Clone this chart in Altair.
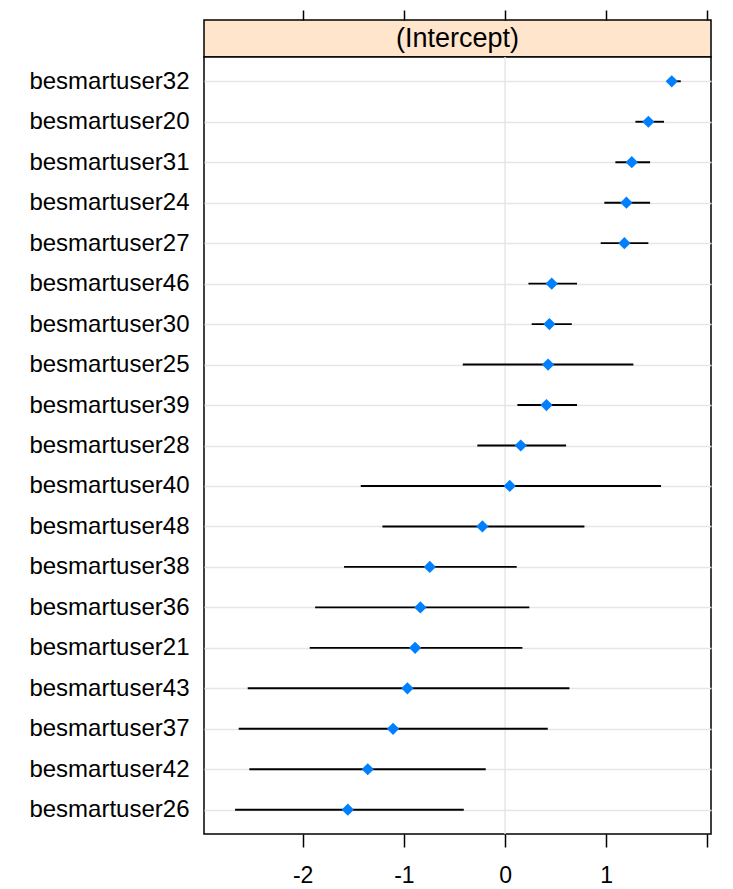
import altair as alt
import pandas as pd

users = ["besmartuser32", "besmartuser20", "besmartuser31", "besmartuser24", "besmartuser27",
         "besmartuser46", "besmartuser30", "besmartuser25", "besmartuser39", "besmartuser28",
         "besmartuser40", "besmartuser48", "besmartuser38", "besmartuser36", "besmartuser21",
         "besmartuser43", "besmartuser37", "besmartuser42", "besmartuser26"]
estimate = [1.647, 1.416, 1.252, 1.199, 1.179, 0.461, 0.438, 0.425, 0.409, 0.155,
            0.046, -0.224, -0.744, -0.837, -0.889, -0.965, -1.107, -1.357, -1.554]
lower = [1.600, 1.288, 1.090, 0.981, 0.945, 0.231, 0.263, -0.418, 0.122, -0.274,
         -1.426, -1.212, -1.591, -1.877, -1.930, -2.543, -2.632, -2.527, -2.668]
upper = [1.736, 1.571, 1.433, 1.433, 1.416, 0.711, 0.659, 1.268, 0.711, 0.603,
         1.541, 0.784, 0.115, 0.240, 0.171, 0.636, 0.422, -0.191, -0.408]
tick_values = [-2, -1, 0, 1, 2]
strip_label = "(Intercept)"

FONT = "Liberation Sans"
DOMAIN = [-2.975, 2.035]

df = pd.DataFrame({"user": users, "est": estimate, "lo": lower, "hi": upper})
xscale = alt.Scale(domain=DOMAIN, nice=False, zero=False)

# strip on top
strip = alt.Chart(pd.DataFrame({"pos": [sum(DOMAIN) / 2], "label": [strip_label]})).mark_text(
    font=FONT, fontSize=27, color="black", baseline="middle"
).encode(
    x=alt.X("pos:Q", scale=xscale, title=None,
            axis=alt.Axis(orient="top", values=tick_values, labels=False, domain=False,
                          grid=False, tickSize=10, tickColor="black", tickWidth=1.5)),
    y=alt.value(19),
    text="label:N",
).properties(width=507, height=37,
             view=alt.ViewBackground(fill="#ffe5cc", stroke="black", strokeWidth=1.5))

yenc = alt.Y("user:N", sort=users, title=None,
             scale=alt.Scale(type="point", padding=0.6),
             axis=alt.Axis(grid=True, gridColor="#e6e6e6", gridWidth=1.5, ticks=False,
                           domain=False, labelFont=FONT, labelFontSize=24,
                           labelColor="black", labelPadding=15))

zero = alt.Chart(pd.DataFrame({"z": [0]})).mark_rule(color="#e6e6e6", strokeWidth=1.5).encode(
    x=alt.X("z:Q", scale=xscale)
)
bars = alt.Chart(df).mark_rule(color="black", strokeWidth=1.9).encode(
    x=alt.X("lo:Q", scale=xscale, title=None,
            axis=alt.Axis(values=tick_values, domain=False, grid=False, tickSize=13,
                          tickColor="black", tickWidth=1.5, labelFont=FONT, labelFontSize=23,
                          labelColor="black", labelPadding=17,
                          labelExpr="datum.value == 2 ? '' : '' + datum.value")),
    x2="hi:Q",
    y=yenc,
)
pts = alt.Chart(df).mark_point(shape="diamond", filled=True, color="#0080ff", size=150, opacity=1).encode(
    x=alt.X("est:Q", scale=xscale),
    y=alt.Y("user:N", sort=users),
)
main = alt.layer(zero, bars, pts).properties(
    width=507, height=777,
    view=alt.ViewBackground(fill="white", stroke="black", strokeWidth=1.5))

chart = alt.vconcat(strip, main, spacing=0, bounds="flush").properties(
    padding={"left": 20, "top": 0, "right": 5, "bottom": 5},
    background="white",
)

chart.save("out.html", embed_options={"renderer": "svg", "actions": False})
